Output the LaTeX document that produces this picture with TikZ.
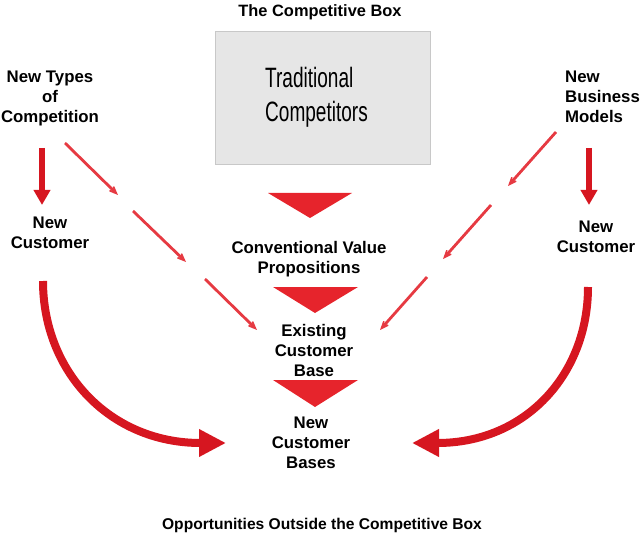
\documentclass[tikz,border=0pt]{standalone}
\usepackage{fontspec}
\usepackage{graphicx}
\setmainfont{Liberation Sans}
\usetikzlibrary{arrows.meta}
\definecolor{darkred}{RGB}{214,22,32}
\definecolor{trired}{RGB}{230,36,44}
\definecolor{diagred}{RGB}{230,58,66}
\definecolor{boxgray}{RGB}{230,230,230}
\definecolor{boxedge}{RGB}{200,200,200}
\begin{document}
\begin{tikzpicture}[x=1pt,y=-1pt,
  lbl/.style={font=\bfseries\fontsize{16.8}{20}\selectfont, inner sep=0pt, align=center},
  ttl/.style={font=\bfseries\fontsize{16.4}{20}\selectfont, inner sep=0pt},
  diag/.style={draw=diagred, line width=2.8pt, -{Stealth[length=16pt,width=13pt,inset=10pt]}},
  thickarr/.style={draw=darkred, line width=6pt, -{Triangle[length=15pt,width=16pt]}},
  curvearr/.style={draw=darkred, line width=8pt, -{Triangle[length=27pt,width=26pt]}},
  tri/.style={fill=trired},
  tradbox/.style={fill=boxgray, draw=boxedge, line width=1pt}
]
\useasboundingbox (0,0) rectangle (640,540);

% title
\node[ttl, anchor=base] (title) at (320,17) {The Competitive Box};
\node[ttl, font=\bfseries\fontsize{15.6}{18}\selectfont, anchor=base] (bottom) at (322,529) {Opportunities Outside the Competitive Box};

% traditional competitors box
\draw[tradbox] (215,32) rectangle (430,165);
\node[inner sep=0pt, anchor=base west, align=left, font=\fontsize{28}{34}\selectfont] (trad) at (265,122)
  {\scalebox{0.68}[1]{Traditional}\\\scalebox{0.68}[1]{Competitors}};

% side labels (base anchor = baseline of last line)
\node[lbl, anchor=base] (ntc) at (50,123) {New Types\\of\\Competition};
\node[lbl, anchor=base] (ncl) at (50,248) {New\\Customer};
\node[lbl, anchor=base west, align=left] (nbm) at (565,123) {New\\Business\\Models};
\node[lbl, anchor=base] (ncr) at (596,252) {New\\Customer};

% center labels
\node[lbl, anchor=base] (cvp) at (309,273) {Conventional Value\\Propositions};
\node[lbl, anchor=base] (ecb) at (314,376) {Existing\\Customer\\Base};
\node[lbl, anchor=base] (ncb) at (311,468) {New\\Customer\\Bases};

% triangles
\fill[tri] (268,193) -- (352,193) -- (310,218) -- cycle;
\fill[tri] (273,287) -- (358,287) -- (315,313) -- cycle;
\fill[tri] (273,380) -- (358,380) -- (315,407) -- cycle;

% vertical thick arrows
\coordinate (la0) at (42,148);
\coordinate (la1) at (42,205);
\coordinate (ra0) at (589,148);
\coordinate (ra1) at (589,205);
\draw[thickarr] (la0) -- (la1);
\draw[thickarr] (ra0) -- (ra1);

% left diagonal (segmented)
\coordinate (l0) at (65,143);
\coordinate (l1) at (118,195);
\coordinate (l2) at (133,211);
\coordinate (l3) at (186,262);
\coordinate (l4) at (205,279);
\coordinate (l5) at (257,330);
\draw[diag] (l0) -- (l1);
\draw[diag] (l2) -- (l3);
\draw[diag] (l4) -- (l5);

% right diagonal (segmented)
\coordinate (r0) at (556,132);
\coordinate (r1) at (508,186);
\coordinate (r2) at (491,205);
\coordinate (r3) at (443,259);
\coordinate (r4) at (427,277);
\coordinate (r5) at (380,330);
\draw[diag] (r0) -- (r1);
\draw[diag] (r2) -- (r3);
\draw[diag] (r4) -- (r5);

% curved arrows
\coordinate (lc0) at (43,281);
\coordinate (lc1) at (226,443);
\coordinate (rc0) at (588,287);
\coordinate (rc1) at (412,443);
\draw[curvearr] (lc0) .. controls (43,372) and (110,443) .. (lc1);
\draw[curvearr] (rc0) .. controls (588,375) and (525,443) .. (rc1);
\end{tikzpicture}
\end{document}
